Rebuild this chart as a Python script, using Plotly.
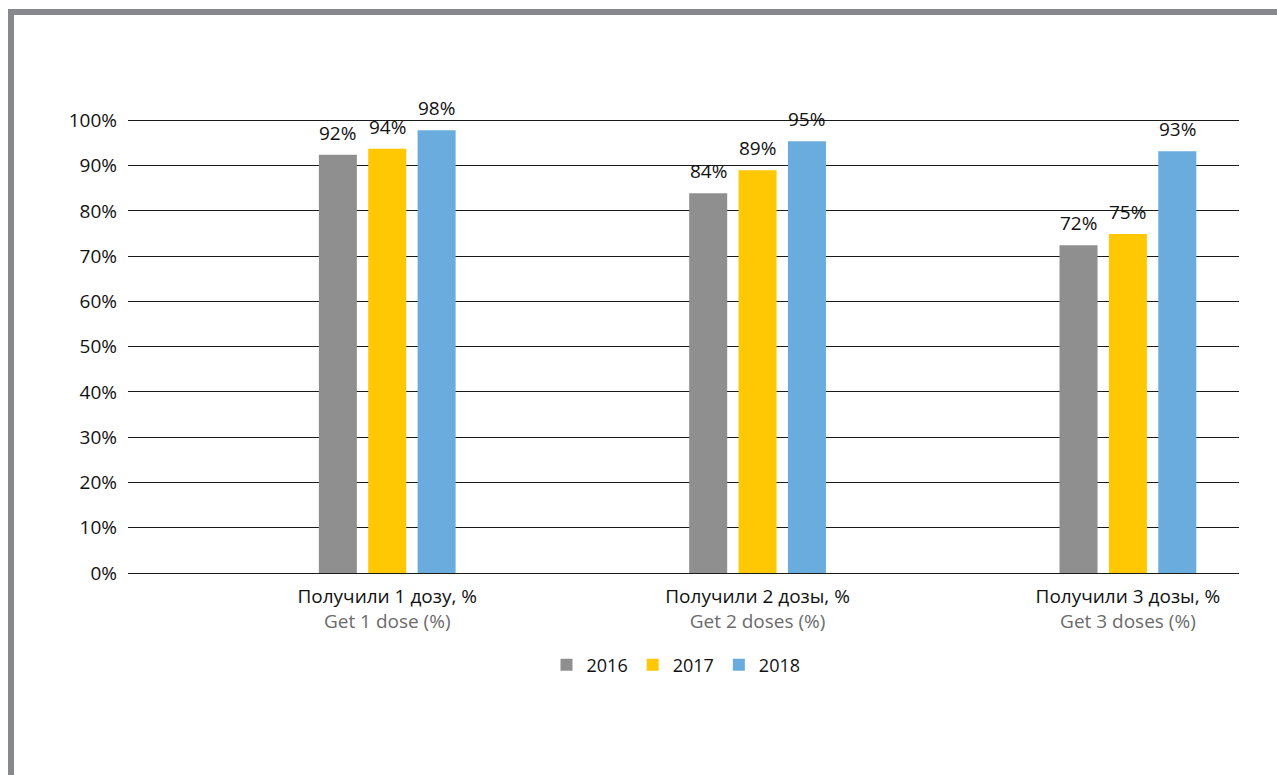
import plotly.graph_objects as go

# Vaccination coverage by number of doses received
categories_ru = ["Получили 1 дозу, %", "Получили 2 дозы, %", "Получили 3 дозы, %"]
categories_en = ["Get 1 dose (%)", "Get 2 doses (%)", "Get 3 doses (%)"]
years = ["2016", "2017", "2018"]
values_2016 = [92.4, 83.9, 72.4]
values_2017 = [93.7, 89.0, 74.9]
values_2018 = [97.8, 95.4, 93.2]
y_ticks = [0, 10, 20, 30, 40, 50, 60, 70, 80, 90, 100]

series = [values_2016, values_2017, values_2018]
colors = ["#8f8f8f", "#ffc803", "#6aacde"]

W, H = 1277, 775
M_L, M_R, M_T, M_B = 128, 38, 119, 202
plot_w = W - M_L - M_R
plot_h = H - M_T - M_B

# categories sit right of centre inside the plot area
X_RANGE = [-0.70, 2.30]
unit_px = plot_w / (X_RANGE[1] - X_RANGE[0])

FONT = "Open Sans, Arial, sans-serif"

tick_text = [
    f"{ru}<br><span style='color:#6b6b6b'>{en}</span>"
    for ru, en in zip(categories_ru, categories_en)
]

fig = go.Figure()
for year, vals, col in zip(years, series, colors):
    fig.add_trace(go.Bar(
        x=categories_ru,
        y=vals,
        name=year,
        marker=dict(color=col, line=dict(width=0)),
    ))

# value labels above each bar
bargap = 0.6
slot_px = (1 - bargap) / len(years) * unit_px
annotations = []
for i, vals in enumerate(series):
    shift = (i - (len(years) - 1) / 2) * slot_px
    for cat, v in zip(categories_ru, vals):
        annotations.append(dict(
            x=cat, y=v, xref="x", yref="y",
            text=f"{v:.0f}%", showarrow=False,
            xanchor="center", yanchor="bottom",
            xshift=shift, yshift=7,
            font=dict(family=FONT, size=19, color="#111111"),
        ))

# frame lines along the top and left edges of the page
def px_x(px):
    return (px - M_L) / plot_w

def px_y(py):
    return (H - M_B - py) / plot_h

border = "#87888c"
shapes = [
    dict(type="line", xref="paper", yref="paper",
         x0=px_x(11), x1=px_x(W + 5), y0=px_y(12), y1=px_y(12),
         line=dict(color=border, width=6)),
    dict(type="line", xref="paper", yref="paper",
         x0=px_x(11), x1=px_x(11), y0=px_y(9), y1=px_y(H + 5),
         line=dict(color=border, width=6)),
]

fig.update_layout(
    width=W, height=H,
    margin=dict(l=M_L, r=M_R, t=M_T, b=M_B, autoexpand=False),
    paper_bgcolor="white", plot_bgcolor="white",
    barmode="group", bargap=bargap, bargroupgap=0.23,
    font=dict(family=FONT, size=18, color="#111111"),
    annotations=annotations,
    shapes=shapes,
    showlegend=True,
    legend=dict(
        orientation="h", x=px_x(676), xanchor="center",
        y=px_y(665), yanchor="middle",
        font=dict(family=FONT, size=18, color="#111111"),
        itemwidth=30, traceorder="normal",
    ),
    xaxis=dict(
        range=X_RANGE,
        tickmode="array", tickvals=categories_ru, ticktext=tick_text,
        showgrid=False, zeroline=False, showline=False, ticks="",
        tickfont=dict(family=FONT, size=19, color="#111111"),
        ticklabelstandoff=10,
    ),
    yaxis=dict(
        range=[0, 100.3], tickvals=y_ticks,
        ticktext=[f"{t}%" for t in y_ticks],
        showgrid=True, gridcolor="#1a1a1a", gridwidth=1,
        zeroline=True, zerolinecolor="#1a1a1a", zerolinewidth=1,
        showline=False, ticks="", ticklabelstandoff=10,
        tickfont=dict(family=FONT, size=19, color="#111111"),
    ),
)

fig.write_html("out.html")
